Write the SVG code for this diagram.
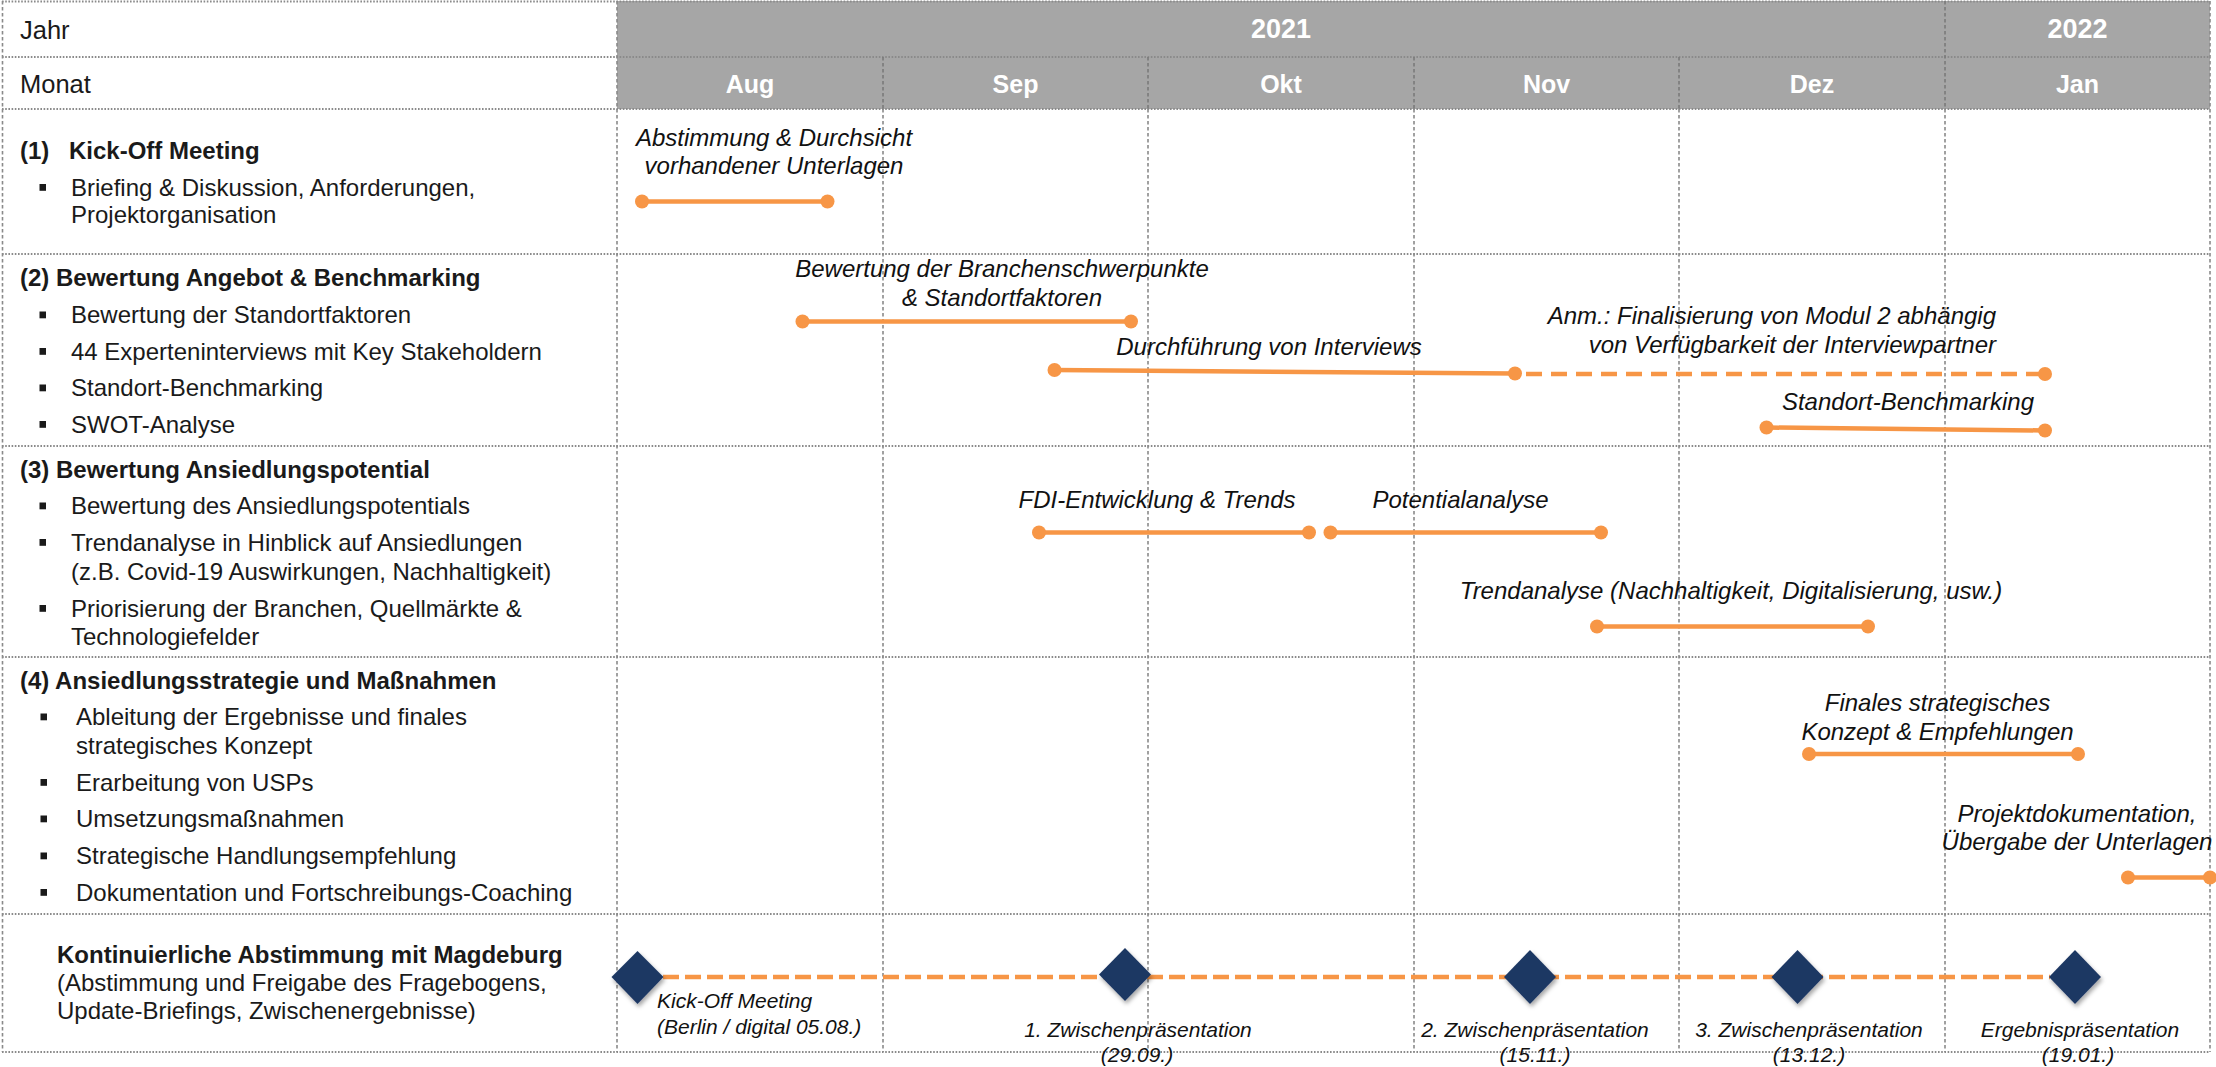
<svg xmlns="http://www.w3.org/2000/svg" width="2216" height="1067" viewBox="0 0 2216 1067">
<defs>
<style>
.gh{stroke:#8a8a8a;stroke-width:2.2;stroke-dasharray:1.6 1.6;fill:none}
.gv{stroke:#8a8a8a;stroke-width:1.6;stroke-dasharray:3.5 2.5;fill:none}
.gvh{stroke:#7a7a7a;stroke-width:1.6;stroke-dasharray:3.5 2.5;fill:none}
.hdr{font-family:"Liberation Sans",Arial,sans-serif;font-weight:bold;fill:#fff;text-anchor:middle}
.t{font-family:"Liberation Sans",Arial,sans-serif;font-size:24px;fill:#1a1a1a}
.hl{font-size:25.5px}
.b{font-weight:bold}
.it{font-family:"Liberation Sans",Arial,sans-serif;font-style:italic;font-size:24px;fill:#111;text-anchor:middle}
.ms{font-family:"Liberation Sans",Arial,sans-serif;font-style:italic;font-size:21px;fill:#111;text-anchor:middle}
.it.en{text-anchor:end}
.ms.st{text-anchor:start}
.bar{stroke:#F79646;stroke-width:4.5;fill:none}
.dot{fill:#F79646}
.d1{stroke-dasharray:16 9}
.d2{stroke-dasharray:16 6}
.dia{fill:#1F3864;filter:url(#sh)}
.bul{fill:#1a1a1a}
</style>
<filter id="sh" x="-40%" y="-40%" width="180%" height="180%">
<feDropShadow dx="1.5" dy="3" stdDeviation="2" flood-color="#000" flood-opacity="0.35"/>
</filter>
</defs>
<rect width="2216" height="1067" fill="#fff"/>

<g id="header">
<rect x="617" y="1" width="1593" height="108" fill="#A6A6A6"/>
<text class="t hl" x="20" y="39">Jahr</text>
<text class="t hl" x="20" y="93">Monat</text>
<text class="hdr" x="1281" y="38" font-size="27">2021</text>
<text class="hdr" x="2077.5" y="38" font-size="27">2022</text>
<text class="hdr" x="750" y="93" font-size="25">Aug</text>
<text class="hdr" x="1015.5" y="93" font-size="25">Sep</text>
<text class="hdr" x="1281" y="93" font-size="25">Okt</text>
<text class="hdr" x="1546.5" y="93" font-size="25">Nov</text>
<text class="hdr" x="1812" y="93" font-size="25">Dez</text>
<text class="hdr" x="2077.5" y="93" font-size="25">Jan</text>
</g>

<g id="grid">
<line class="gh" x1="2" y1="1.5" x2="2210" y2="1.5"/>
<line class="gh" x1="2" y1="57" x2="2210" y2="57"/>
<line class="gh" x1="2" y1="109" x2="2210" y2="109"/>
<line class="gh" x1="2" y1="254" x2="2210" y2="254"/>
<line class="gh" x1="2" y1="446" x2="2210" y2="446"/>
<line class="gh" x1="2" y1="657" x2="2210" y2="657"/>
<line class="gh" x1="2" y1="914" x2="2210" y2="914"/>
<line class="gh" x1="2" y1="1052" x2="2210" y2="1052"/>
<line class="gv" x1="2.5" y1="1" x2="2.5" y2="1052"/>
<line class="gv" x1="617" y1="1" x2="617" y2="1052"/>
<line class="gvh" x1="883" y1="57" x2="883" y2="109"/>
<line class="gvh" x1="1148" y1="57" x2="1148" y2="109"/>
<line class="gvh" x1="1414" y1="57" x2="1414" y2="109"/>
<line class="gvh" x1="1679" y1="57" x2="1679" y2="109"/>
<line class="gvh" x1="1945" y1="1" x2="1945" y2="109"/>
<line class="gv" x1="883" y1="109" x2="883" y2="1052"/>
<line class="gv" x1="1148" y1="109" x2="1148" y2="1052"/>
<line class="gv" x1="1414" y1="109" x2="1414" y2="1052"/>
<line class="gv" x1="1679" y1="109" x2="1679" y2="1052"/>
<line class="gv" x1="1945" y1="109" x2="1945" y2="1052"/>
<line class="gv" x1="2210" y1="1" x2="2210" y2="1052"/>
</g>

<g id="row1">
<text class="t b" x="20" y="159">(1)</text>
<text class="t b" x="69" y="159">Kick-Off Meeting</text>
<rect class="bul" x="39.5" y="184" width="6.5" height="6.8"/>
<text class="t" x="71" y="196">Briefing &amp; Diskussion, Anforderungen,</text>
<text class="t" x="71" y="223">Projektorganisation</text>
</g>

<g id="row2">
<text class="t b" x="20" y="285.5">(2) Bewertung Angebot &amp; Benchmarking</text>
<rect class="bul" x="39.5" y="311.5" width="6.5" height="6.8"/>
<text class="t" x="71" y="323">Bewertung der Standortfaktoren</text>
<rect class="bul" x="39.5" y="348" width="6.5" height="6.8"/>
<text class="t" x="71" y="359.5">44 Experteninterviews mit Key Stakeholdern</text>
<rect class="bul" x="39.5" y="384.5" width="6.5" height="6.8"/>
<text class="t" x="71" y="396">Standort-Benchmarking</text>
<rect class="bul" x="39.5" y="421" width="6.5" height="6.8"/>
<text class="t" x="71" y="432.5">SWOT-Analyse</text>
</g>

<g id="row3">
<text class="t b" x="20" y="477.5">(3) Bewertung Ansiedlungspotential</text>
<rect class="bul" x="39.5" y="502.5" width="6.5" height="6.8"/>
<text class="t" x="71" y="514">Bewertung des Ansiedlungspotentials</text>
<rect class="bul" x="39.5" y="539" width="6.5" height="6.8"/>
<text class="t" x="71" y="550.5">Trendanalyse in Hinblick auf Ansiedlungen</text>
<text class="t" x="71" y="579.5">(z.B. Covid-19 Auswirkungen, Nachhaltigkeit)</text>
<rect class="bul" x="39.5" y="605" width="6.5" height="6.8"/>
<text class="t" x="71" y="616.5">Priorisierung der Branchen, Quellmärkte &amp;</text>
<text class="t" x="71" y="645">Technologiefelder</text>
</g>

<g id="row4">
<text class="t b" x="20" y="689">(4) Ansiedlungsstrategie und Maßnahmen</text>
<rect class="bul" x="40.5" y="713.5" width="6.5" height="6.8"/>
<text class="t" x="76" y="725">Ableitung der Ergebnisse und finales</text>
<text class="t" x="76" y="754">strategisches Konzept</text>
<rect class="bul" x="40.5" y="779" width="6.5" height="6.8"/>
<text class="t" x="76" y="790.5">Erarbeitung von USPs</text>
<rect class="bul" x="40.5" y="815.5" width="6.5" height="6.8"/>
<text class="t" x="76" y="827">Umsetzungsmaßnahmen</text>
<rect class="bul" x="40.5" y="852.5" width="6.5" height="6.8"/>
<text class="t" x="76" y="864">Strategische Handlungsempfehlung</text>
<rect class="bul" x="40.5" y="889" width="6.5" height="6.8"/>
<text class="t" x="76" y="900.5">Dokumentation und Fortschreibungs-Coaching</text>
</g>

<g id="row5">
<text class="t b" x="57" y="962.5">Kontinuierliche Abstimmung mit Magdeburg</text>
<text class="t" x="57" y="990.5">(Abstimmung und Freigabe des Fragebogens,</text>
<text class="t" x="57" y="1019">Update-Briefings, Zwischenergebnisse)</text>
</g>

<g id="connectors">
<line class="bar" x1="642" y1="201.5" x2="827.5" y2="201.5"/>
<line class="bar" x1="802.5" y1="321.5" x2="1131" y2="321.5"/>
<line class="bar" x1="1054.5" y1="370" x2="1515" y2="373.5"/>
<line class="bar d1" x1="1526" y1="374" x2="2040" y2="374"/>
<line class="bar" x1="1766.5" y1="427.5" x2="2045" y2="430.5"/>
<line class="bar" x1="1039" y1="532.5" x2="1309" y2="532.5"/>
<line class="bar" x1="1330.5" y1="532.5" x2="1601" y2="532.5"/>
<line class="bar" x1="1597" y1="626.5" x2="1868" y2="626.5"/>
<line class="bar" x1="1809" y1="754" x2="2078" y2="754"/>
<line class="bar" x1="2128" y1="877.5" x2="2210" y2="877.5"/>
<line class="bar d2" x1="663" y1="977" x2="2050" y2="977" stroke-width="4.5"/>
</g>

<g id="dots">
<circle class="dot" cx="642" cy="201.5" r="7"/><circle class="dot" cx="827.5" cy="201.5" r="7"/>
<circle class="dot" cx="802.5" cy="321.5" r="7"/><circle class="dot" cx="1131" cy="321.5" r="7"/>
<circle class="dot" cx="1054.5" cy="370" r="7"/><circle class="dot" cx="1515" cy="373.5" r="7"/><circle class="dot" cx="2045" cy="374" r="7"/>
<circle class="dot" cx="1766.5" cy="427.5" r="7"/><circle class="dot" cx="2045" cy="430.5" r="7"/>
<circle class="dot" cx="1039" cy="532.5" r="7"/><circle class="dot" cx="1309" cy="532.5" r="7"/>
<circle class="dot" cx="1330.5" cy="532.5" r="7"/><circle class="dot" cx="1601" cy="532.5" r="7"/>
<circle class="dot" cx="1597" cy="626.5" r="7"/><circle class="dot" cx="1868" cy="626.5" r="7"/>
<circle class="dot" cx="1809" cy="754" r="7"/><circle class="dot" cx="2078" cy="754" r="7"/>
<circle class="dot" cx="2128" cy="877.5" r="7"/><circle class="dot" cx="2210" cy="877.5" r="7"/>
</g>

<g id="bar-labels">
<text class="it" x="774" y="146">Abstimmung &amp; Durchsicht</text>
<text class="it" x="774" y="174">vorhandener Unterlagen</text>
<text class="it" x="1002" y="277">Bewertung der Branchenschwerpunkte</text>
<text class="it" x="1002" y="306">&amp; Standortfaktoren</text>
<text class="it" x="1269" y="355">Durchführung von Interviews</text>
<text class="it en" x="1996" y="324">Anm.: Finalisierung von Modul 2 abhängig</text>
<text class="it en" x="1996" y="353">von Verfügbarkeit der Interviewpartner</text>
<text class="it" x="1908" y="410">Standort-Benchmarking</text>
<text class="it" x="1157" y="508">FDI-Entwicklung &amp; Trends</text>
<text class="it" x="1460.5" y="508">Potentialanalyse</text>
<text class="it" x="1731" y="599">Trendanalyse (Nachhaltigkeit, Digitalisierung, usw.)</text>
<text class="it" x="1937.5" y="711">Finales strategisches</text>
<text class="it" x="1937.5" y="740">Konzept &amp; Empfehlungen</text>
<text class="it" x="2077" y="822">Projektdokumentation,</text>
<text class="it" x="2077" y="850">Übergabe der Unterlagen</text>
</g>

<g id="milestone-kickoff">
<polygon class="dia" points="637.5,951 663.5,977 637.5,1004 611.5,977"/>
<text class="ms st" x="657" y="1008">Kick-Off Meeting</text>
<text class="ms st" x="657" y="1034">(Berlin / digital 05.08.)</text>
</g>
<g id="milestone-zp1">
<polygon class="dia" points="1125,948 1151,974.5 1125,1001 1099,974.5"/>
<text class="ms" x="1138" y="1037">1. Zwischenpräsentation</text>
<text class="ms" x="1137" y="1062">(29.09.)</text>
</g>
<g id="milestone-zp2">
<polygon class="dia" points="1530,950 1556,977 1530,1004 1504,977"/>
<text class="ms" x="1535" y="1037">2. Zwischenpräsentation</text>
<text class="ms" x="1535" y="1062">(15.11.)</text>
</g>
<g id="milestone-zp3">
<polygon class="dia" points="1797.5,950 1823.5,977 1797.5,1004 1771.5,977"/>
<text class="ms" x="1809" y="1037">3. Zwischenpräsentation</text>
<text class="ms" x="1809" y="1062">(13.12.)</text>
</g>
<g id="milestone-ergebnis">
<polygon class="dia" points="2075,950 2101,977 2075,1004 2049,977"/>
<text class="ms" x="2080" y="1037">Ergebnispräsentation</text>
<text class="ms" x="2078" y="1062">(19.01.)</text>
</g>
</svg>
